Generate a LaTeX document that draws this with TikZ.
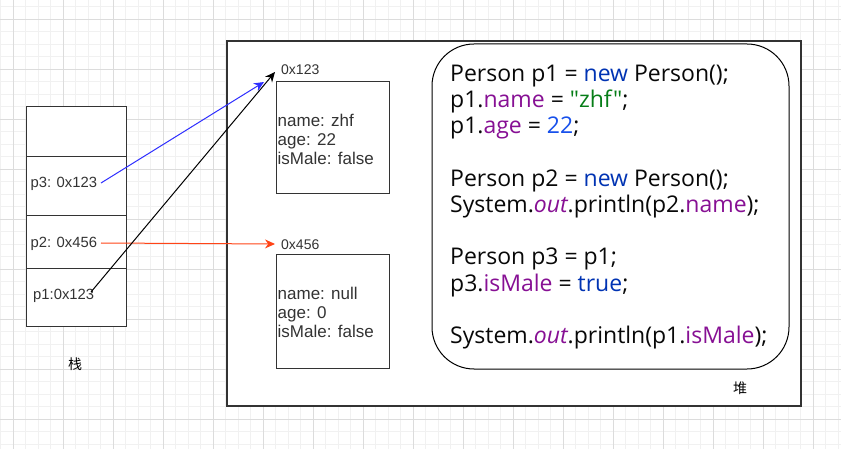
\documentclass[tikz,border=0pt]{standalone}
\usepackage{fontspec}
\setmainfont{Liberation Sans}
\newfontfamily\codefont{Open Sans}
\newfontfamily\cjk{Noto Sans CJK SC}
\usetikzlibrary{arrows.meta}
\definecolor{gridmajor}{HTML}{DCDCDC}
\definecolor{gridminor}{HTML}{F1F1F1}
\definecolor{boxgray}{HTML}{333333}
\definecolor{kwblue}{HTML}{0033B3}
\definecolor{numblue}{HTML}{1750EB}
\definecolor{fieldpurple}{HTML}{871094}
\definecolor{strgreen}{HTML}{067D17}
\definecolor{codeblack}{HTML}{080808}
\definecolor{ptrblue}{HTML}{2E2EFF}
\definecolor{ptrred}{HTML}{FF4417}
\newcommand{\kw}[1]{\textcolor{kwblue}{#1}}
\newcommand{\fld}[1]{\textcolor{fieldpurple}{#1}}
\newcommand{\numc}[1]{\textcolor{numblue}{#1}}
\newcommand{\strc}[1]{\textcolor{strgreen}{#1}}
\tikzset{
  box/.style={draw=boxgray, fill=white, line width=1pt, inner sep=0pt, outer sep=0pt, anchor=north west},
  lbl/.style={inner sep=0pt, anchor=west, text=boxgray, font=\fontsize{14.8}{17}\selectfont},
  addr/.style={inner sep=0pt, anchor=west, text=boxgray, font=\fontsize{14}{16}\selectfont},
  objtxt/.style={inner sep=0pt, anchor=west, align=left, text=boxgray, font=\fontsize{17}{19}\selectfont},
  cjklbl/.style={inner sep=0pt, text=black, font=\cjk\fontsize{14}{16}\selectfont},
  ptr/.style={-{Stealth[length=10pt,width=9pt]}, line width=1pt},
}
\begin{document}
\begin{tikzpicture}[x=1pt,y=-1pt]
\useasboundingbox (0,0) rectangle (841,449);
\fill[white] (0,0) rectangle (841,449);
% grid
\foreach \k in {0,...,67} \draw[gridminor, line width=0.8pt] ({0.8+12.5*\k},0) -- ({0.8+12.5*\k},449);
\foreach \k in {0,...,35} \draw[gridminor, line width=0.8pt] (0,{6.8+12.5*\k}) -- (841,{6.8+12.5*\k});
\foreach \k in {0,...,16} \draw[gridmajor, line width=0.8pt] ({13.3+50*\k},0) -- ({13.3+50*\k},449);
\foreach \k in {0,...,8} \draw[gridmajor, line width=0.8pt] (0,{19.3+50*\k}) -- (841,{19.3+50*\k});

% stack
\node[box, minimum width=100pt, minimum height=50pt] (c0) at (26,107) {};
\node[box, minimum width=100pt, minimum height=59pt] (c1) at (26,157) {};
\node[box, minimum width=100pt, minimum height=53pt] (c2) at (26,216) {};
\node[box, minimum width=100pt, minimum height=57pt] (c3) at (26,269) {};
\node[lbl] (p3) at (30.5,184) {p3: 0x123};
\node[lbl] (p2) at (30.5,243.5) {p2: 0x456};
\node[lbl] (p1) at (33,296) {p1:0x123};
\node[cjklbl] (zhan) at (75,364) {栈};

% heap
\node[box, draw=boxgray, line width=1.3pt, minimum width=574pt, minimum height=365pt] (heap) at (227,41) {};
\node[cjklbl] (dui) at (740,388) {堆};

% objects
\node[box, minimum width=113pt, minimum height=112pt] (o1) at (276,82) {};
\node[addr] (a1) at (281,70) {0x123};
\node[objtxt] (t1) at (277.5,139.5) {name: zhf\\age: 22\\isMale: false};
\node[box, minimum width=113pt, minimum height=113pt] (o2) at (276,255) {};
\node[addr] (a2) at (281,245) {0x456};
\node[objtxt] (t2) at (277.5,312.5) {name: null\\age: 0\\isMale: false};

% code
\node[box, draw=black, rounded corners=42pt, minimum width=357pt, minimum height=325pt] (code) at (432,44) {};
\node[inner sep=0pt, anchor=west, align=left, text=codeblack, font=\codefont\fontsize{23}{26.2}\selectfont] (src) at (450,207) {%
Person p1 = \kw{new} Person();\\
p1.\fld{name} = \strc{"zhf"};\\
p1.\fld{age} = \numc{22};\\[26.2pt]
Person p2 = \kw{new} Person();\\
System.\fld{\itshape out}.println(p2.\fld{name});\\[26.2pt]
Person p3 = p1;\\
p3.\fld{isMale} = \kw{true};\\[26.2pt]
System.\fld{\itshape out}.println(p1.\fld{isMale});};

% pointers
\coordinate (s3) at (101,183);
\coordinate (s2) at (101,243);
\coordinate (s1) at (91,292);
\coordinate (e3) at (264,82);
\coordinate (e1) at (275,72);
\coordinate (e2) at (275,244);
\draw[ptr, ptrblue] (s3) -- (e3);
\draw[ptr, ptrred] (s2) -- (e2);
\draw[ptr, black] (s1) -- (e1);
\end{tikzpicture}
\end{document}
